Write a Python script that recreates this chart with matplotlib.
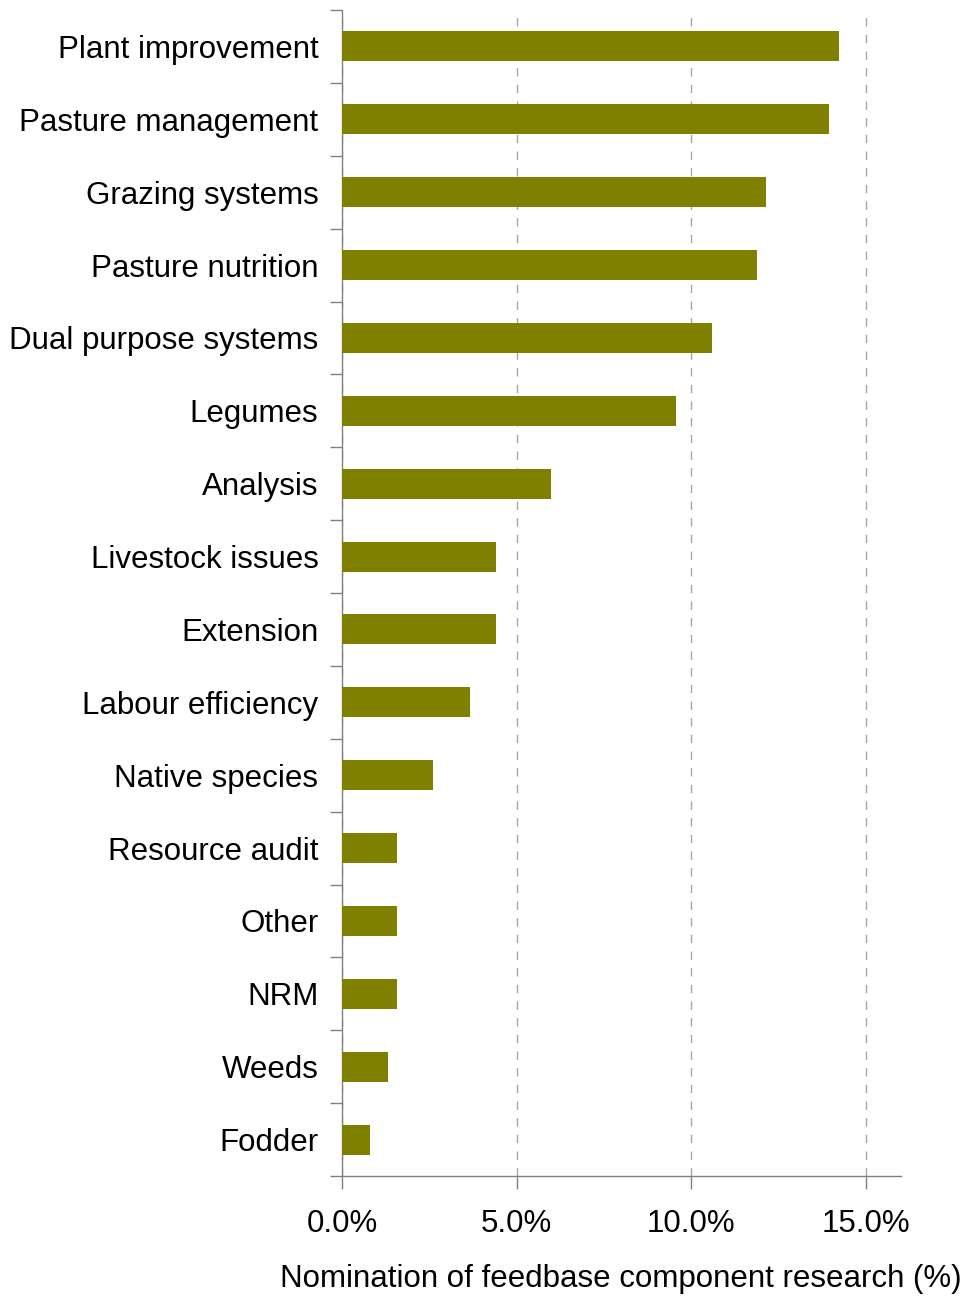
import matplotlib
matplotlib.use("Agg")
import matplotlib.pyplot as plt
from matplotlib.ticker import FuncFormatter, FixedLocator

categories = ["Plant improvement", "Pasture management", "Grazing systems", "Pasture nutrition",
              "Dual purpose systems", "Legumes", "Analysis", "Livestock issues", "Extension",
              "Labour efficiency", "Native species", "Resource audit", "Other", "NRM", "Weeds", "Fodder"]
values = [14.23, 13.94, 12.14, 11.89, 10.6, 9.57, 5.97, 4.4, 4.4, 3.66, 2.6, 1.57, 1.57, 1.57, 1.31, 0.8]
xticks = [0, 5, 10, 15]

plt.rcParams['font.family'] = ['Liberation Sans', 'DejaVu Sans']

fig = plt.figure(figsize=(9.67, 12.98), dpi=100)
ax = fig.add_axes([342/967, 1 - 1176/1298, (901-342)/967, (1176-10)/1298])

n = len(categories)
ypos = list(range(n))
ax.barh(ypos, values, height=0.41, color='#808000', zorder=3)
ax.set_ylim(n - 0.5, -0.5)
ax.set_xlim(0, 16)

ax.set_yticks(ypos)
ax.set_yticklabels(categories, fontsize=22.5)
ax.tick_params(axis='y', length=0, pad=17)
ax.yaxis.set_minor_locator(FixedLocator([i - 0.5 for i in range(n + 1)]))
ax.tick_params(axis='y', which='minor', length=9, width=1, color='#808080', direction='out')

ax.set_xticks(xticks)
ax.xaxis.set_major_formatter(FuncFormatter(lambda v, p: f"{v:.1f}%"))
ax.tick_params(axis='x', length=9, width=1, color='#808080', direction='out', labelsize=22.5, pad=15)
fig.text(962/967, 1 - 1279/1298, "Nomination of feedbase component research (%)",
         fontsize=22.5, ha='right', va='center')

ax.grid(axis='x', linestyle=(0, (6, 6)), color='#a6a6a6', linewidth=1, zorder=0)

for s in ['top', 'right']:
    ax.spines[s].set_visible(False)
for s in ['left', 'bottom']:
    ax.spines[s].set_color('#808080')
    ax.spines[s].set_linewidth(1)

fig.savefig("out.png", dpi=100)
